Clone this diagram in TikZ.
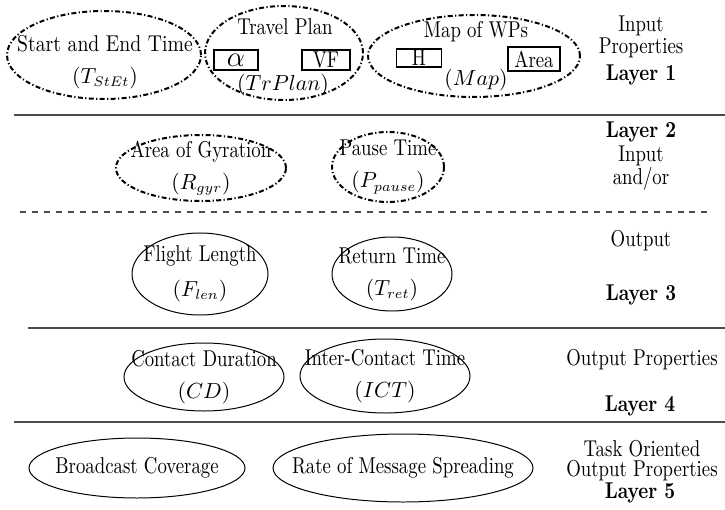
\documentclass[tikz,border=0pt]{standalone}
\usepackage{fontspec}
\usetikzlibrary{shapes.geometric}
\newfontfamily\lmcond{lmroman10-regular.otf}[FakeStretch=0.82,
  BoldFont=lmroman10-bold.otf,ItalicFont=lmroman10-italic.otf]
\newfontfamily\lmwide{lmroman10-regular.otf}[FakeStretch=0.86]
\newcommand\mvar[1]{{\fontsize{10.5}{12}\selectfont$#1$}}
\tikzset{
  inlay/.style={draw,ellipse,inner sep=0pt,line width=1pt,
    dash pattern=on 2.5pt off 1.2pt on 0.6pt off 1.2pt},
  outlay/.style={draw,ellipse,inner sep=0pt,line width=.5pt},
  lbl/.style={align=center,inner sep=0pt,font=\lmcond\fontsize{11.5}{16}\selectfont},
  parbox/.style={draw,rectangle,inner sep=0pt,line width=.6pt,font=\lmcond\fontsize{11.5}{14}\selectfont},
  side/.style={align=center,inner sep=0pt,font=\lmcond\fontsize{11.5}{10}\selectfont},
  sepline/.style={line width=.8pt,black!70}
}
\begin{document}
\begin{tikzpicture}[scale=.5]
\useasboundingbox (0bp,0bp) rectangle (725bp,-510bp);
% layer 1
\node (SE) at (104bp,-55bp)[inlay,minimum width=97bp,minimum height=44bp] {};
\node at (105bp,-62bp)[lbl,font=\lmwide\fontsize{11.5}{16}\selectfont] {Start and End Time\\\mvar{(T_{StEt})}};
\node (TP) at (284bp,-53bp)[inlay,minimum width=79bp,minimum height=47bp] {};
\node (TPt) at (285bp,-27bp)[lbl] {Travel Plan};
\node (TPa) at (236bp,-60bp)[parbox,minimum width=22bp,minimum height=10bp] {\Large$\alpha$};
\node (TPv) at (326bp,-60bp)[parbox,minimum width=24bp,minimum height=10bp] {VF};
\node (TPs) at (283bp,-85bp)[lbl] {\mvar{(TrPlan)}};
\node (MP) at (474bp,-56bp)[inlay,minimum width=106bp,minimum height=41bp] {};
\node (MPt) at (476bp,-32bp)[lbl] {Map of WPs};
\node (MPh) at (419bp,-58bp)[parbox,minimum width=22.5bp,minimum height=9bp] {H};
\node (MPa) at (534bp,-59bp)[parbox,minimum width=26bp,minimum height=12bp] {Area};
\node (MPs) at (476bp,-80bp)[lbl] {\mvar{(Map)}};
\node (L1) at (641bp,-37bp)[side] {Input\\Properties};
\node (L1b) at (641bp,-75bp)[side] {\bfseries Layer 1};
\draw [sepline] (14bp,-115bp) -- (725bp,-115bp);
% layer 2
\node (RG) at (201bp,-168bp)[inlay,minimum width=85bp,minimum height=33bp] {};
\node at (RG)[lbl] {Area of Gyration\\\mvar{(R_{gyr})}};
\node (PT) at (388bp,-167bp)[inlay,minimum width=56bp,minimum height=35bp] {};
\node at (PT)[lbl] {Pause Time\\\mvar{(P_{pause})}};
\node (L2b) at (641bp,-132bp)[side] {\bfseries Layer 2};
\node (L2) at (641bp,-168bp)[side] {Input\\and/or};
\draw [sepline,dashed] (20bp,-212bp) -- (712bp,-212bp);
% layer 3
\node (FL) at (200bp,-274bp)[outlay,minimum width=68bp,minimum height=41bp] {};
\node at (FL)[lbl,font=\lmcond\fontsize{11.5}{17.5}\selectfont] {Flight Length\\\mvar{(F_{len})}};
\node (RT) at (392bp,-274bp)[outlay,minimum width=60bp,minimum height=37bp] {};
\node at (RT)[lbl] {Return Time\\\mvar{(T_{ret})}};
\node (L3) at (641bp,-241bp)[side] {Output};
\node (L3b) at (641bp,-295bp)[side] {\bfseries Layer 3};
\draw [sepline] (28bp,-328bp) -- (725bp,-328bp);
% layer 4
\node (CD) at (204bp,-377bp)[outlay,minimum width=80bp,minimum height=34bp] {};
\node at (CD)[lbl] {Contact Duration\\\mvar{(CD)}};
\node (ICT) at (385bp,-376bp)[outlay,minimum width=85bp,minimum height=37bp] {};
\node at (ICT)[lbl] {Inter-Contact Time\\\mvar{(ICT)}};
\node (L4) at (642bp,-360bp)[side] {Output Properties};
\node (L4b) at (640bp,-406bp)[side] {\bfseries Layer 4};
\draw [sepline] (14bp,-422bp) -- (725bp,-422bp);
% layer 5
\node (BC) at (137bp,-468bp)[outlay,minimum width=108bp,minimum height=30bp] {};
\node at (BC)[lbl] {Broadcast Coverage};
\node (RMS) at (403bp,-468bp)[outlay,minimum width=130bp,minimum height=34bp] {};
\node at (RMS)[lbl] {Rate of Message Spreading};
\node (L5) at (642bp,-461bp)[side] {Task Oriented\\Output Properties};
\node (L5b) at (640bp,-493bp)[side] {\bfseries Layer 5};
\end{tikzpicture}
\end{document}
